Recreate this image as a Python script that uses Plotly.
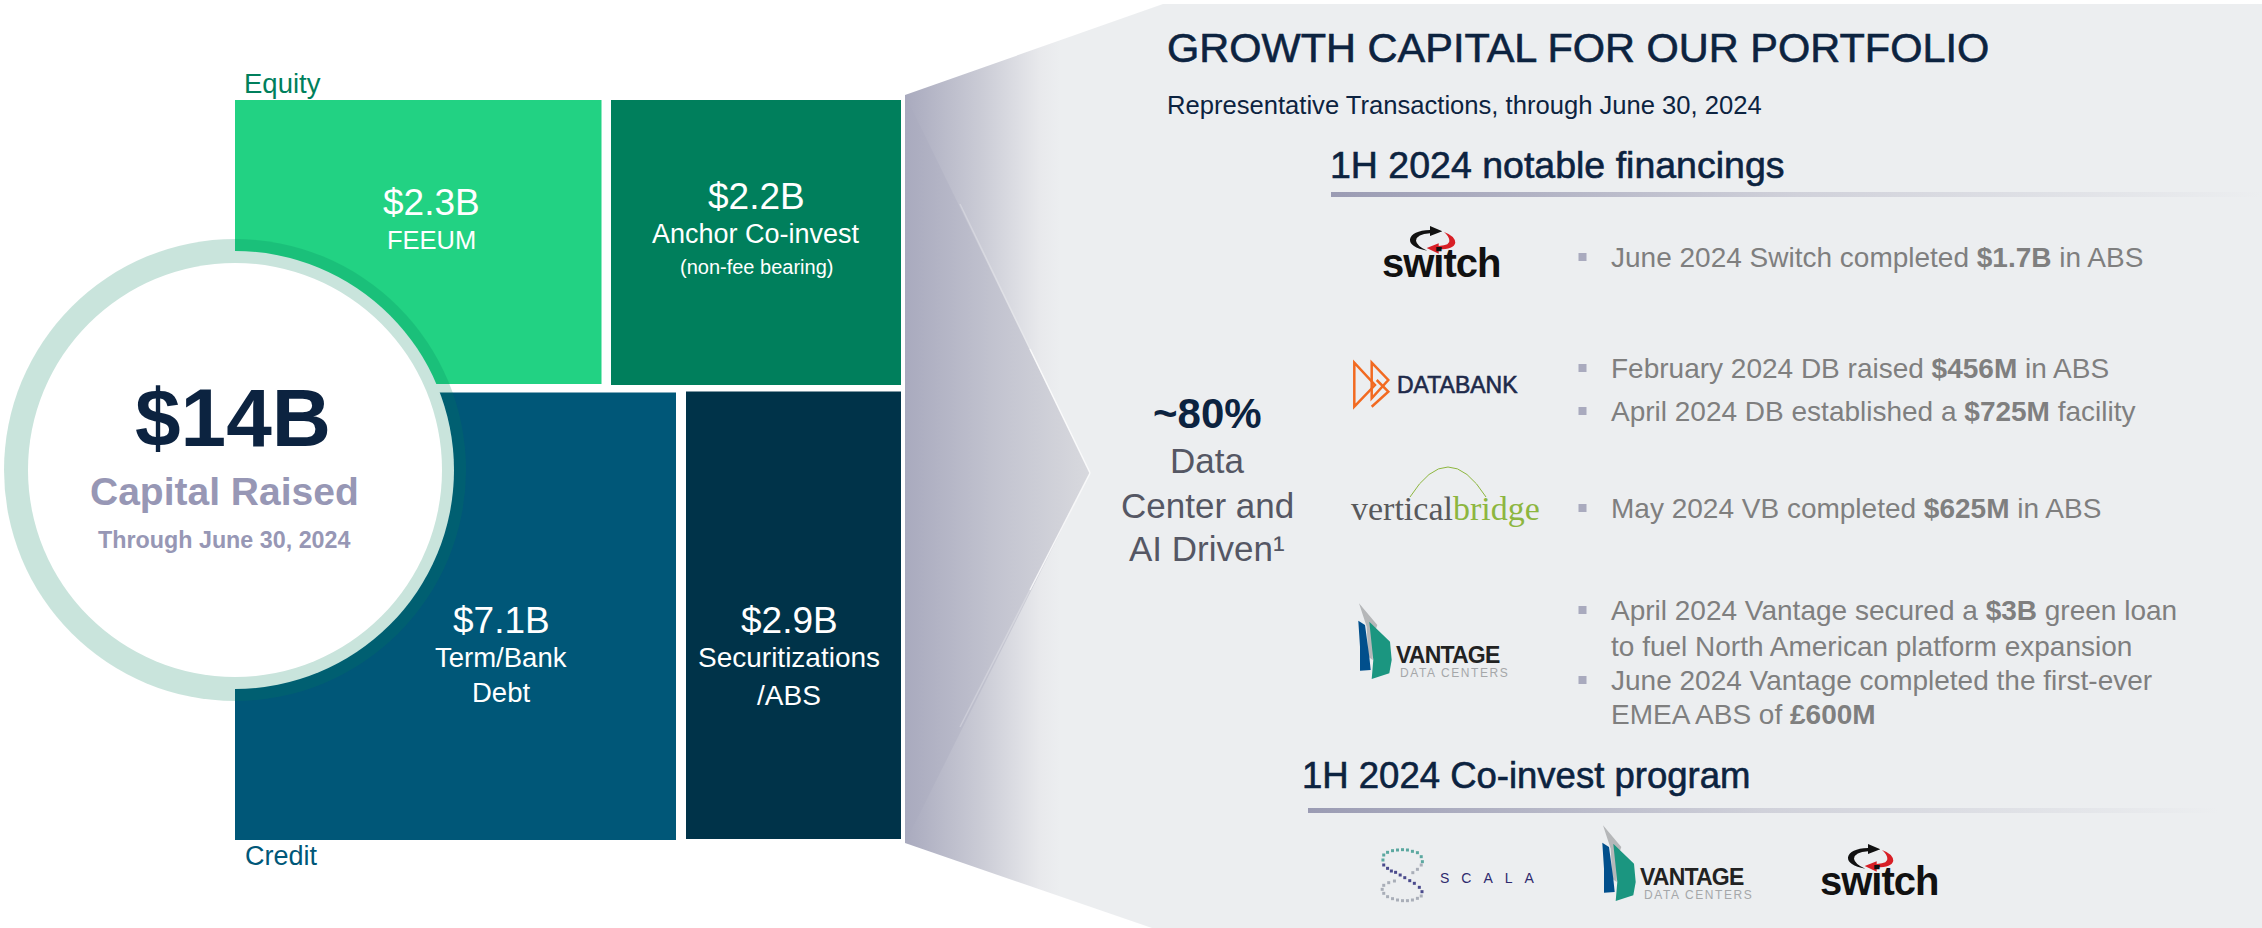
import plotly.graph_objects as go

# ---------- data ----------
tile_values = ["$2.3B", "$2.2B", "$7.1B", "$2.9B"]
tile_names = ["FEEUM", "Anchor Co-invest", "Term/Bank", "Securitizations"]
tile_second = ["", "(non-fee bearing)", "Debt", "/ABS"]
total_value = "$14B"
total_label = "Capital Raised"
total_note = "Through June 30, 2024"
share_value = "~80%"
share_lines = ["Data", "Center and", "AI Driven¹"]
title_text = "GROWTH CAPITAL FOR OUR PORTFOLIO"
subtitle_text = "Representative Transactions, through June 30, 2024"
heading_1 = "1H 2024 notable financings"
heading_2 = "1H 2024 Co-invest program"
bullet_lines = [
    "June 2024 Switch completed <b>$1.7B</b> in ABS",
    "February 2024 DB raised <b>$456M</b> in ABS",
    "April 2024 DB established a <b>$725M</b> facility",
    "May 2024 VB completed <b>$625M</b> in ABS",
    "April 2024 Vantage secured a <b>$3B</b> green loan",
    "June 2024 Vantage completed the first-ever",
]
continuation_lines = ["to fuel North American platform expansion", "EMEA ABS of <b>£600M</b>"]

# ---------- layout geometry (pixel-scaled axes) ----------
W, H = 2262, 928
FONT = "Liberation Sans"
NAVY = "#0C2340"
GREY = "#7F7F7F"
tile_x0 = [235, 611, 235, 686]
tile_x1 = [601.5, 901, 676, 901]
tile_y0 = [100, 100, 392.5, 391.5]
tile_y1 = [384, 385, 840, 839]
tile_colors = ["#22D283", "#007F5C", "#005778", "#003349"]
bullet_y = [257, 368, 411, 508, 610, 680]
continuation_y = [646, 714]

fig = go.Figure()
shapes, notes = [], []


def note(text, x, y, size, color, anchor="center", weight=None, family=FONT):
    if weight == "bold":
        text = f"<b>{text}</b>"
    elif weight == "medium":
        text = f'<span style="stroke:{color};stroke-width:0.6px">{text}</span>'
    notes.append(dict(text=text, x=x, y=y, xref="x", yref="y", showarrow=False,
                      xanchor=anchor, yanchor="middle", align=anchor if anchor != "center" else "center",
                      font=dict(family=family, size=size, color=color), borderpad=0, borderwidth=0))


def poly(points, closed=True):
    return "M" + " L".join(f"{x:.1f},{y:.1f}" for x, y in points) + (" Z" if closed else "")


def add_path(d, fill=None, line=None, width=0):
    shapes.append(dict(type="path", path=d, xref="x", yref="y",
                       fillcolor=fill if fill else "rgba(0,0,0,0)",
                       line=dict(color=line if line else "rgba(0,0,0,0)", width=width)))


# panel with horizontal fade
panel_x = [905, 1163, W, W, 1152, 905, 905]
panel_y = [95, 4, 4, H, H, 843, 95]
fig.add_trace(go.Scatter(
    x=panel_x, y=panel_y, mode="lines", fill="toself", line=dict(width=0), hoverinfo="skip",
    fillgradient=dict(type="horizontal", start=905, stop=1060,
                      colorscale=[[0, "#A9AABE"], [0.5, "#CBCCD6"], [0.87, "#E8E9EC"], [1, "#ECEEF0"]])))
# chevron
fig.add_trace(go.Scatter(
    x=[905, 1090, 905, 905], y=[95, 473, 843, 95], mode="lines", fill="toself", line=dict(width=0),
    hoverinfo="skip",
    fillgradient=dict(type="horizontal", start=905, stop=1090,
                      colorscale=[[0, "#A9AABE"], [0.5, "#C3C4D0"], [1, "#D8D9DE"]])))
for (a, b, alpha) in [((960, 204), (1030, 349), 0.25), ((1030, 349), (1090, 473), 0.8),
                      ((1090, 473), (1030, 590), 0.8), ((1030, 590), (960, 727), 0.25)]:
    fig.add_trace(go.Scatter(x=[a[0], b[0]], y=[a[1], b[1]], mode="lines", hoverinfo="skip",
                             line=dict(color=f"rgba(255,255,255,{alpha})", width=1.5)))

# heading rules
for (x0, x1, y0, y1) in [(1331, W, 192, 197), (1308, 2219, 808, 813)]:
    fig.add_trace(go.Scatter(
        x=[x0, x1, x1, x0, x0], y=[y0, y0, y1, y1, y0], mode="lines", fill="toself", line=dict(width=0),
        hoverinfo="skip",
        fillgradient=dict(type="horizontal", start=x0, stop=x1,
                          colorscale=[[0, "#9A9BB3"], [0.5, "#D0D1DA"], [1, "#ECEEF0"]])))

# tiles
fig.add_trace(go.Bar(
    x=[(a + b) / 2 for a, b in zip(tile_x0, tile_x1)],
    y=[b - a for a, b in zip(tile_y0, tile_y1)],
    base=tile_y0,
    width=[b - a for a, b in zip(tile_x0, tile_x1)],
    marker=dict(color=tile_colors, line=dict(width=0)),
    hoverinfo="skip"))

# ring: tiles are cut back by a white disc, the translucent ring lies over them, the centre is white
CX, CY, R_OUT, R_CUT, R_IN = 235, 470, 231, 219, 207
for r, col in [(R_CUT, "#FFFFFF"), (R_OUT, "rgba(0,127,92,0.21)"), (R_IN, "#FFFFFF")]:
    shapes.append(dict(type="circle", xref="x", yref="y", x0=CX - r, x1=CX + r, y0=CY - r, y1=CY + r,
                       fillcolor=col, line=dict(width=0)))

# left-hand text
note("Equity", 244, 83, 27.5, "#007F5C", "left")
note("Credit", 245, 856, 27, "#005778", "left")
note(tile_values[0], 431, 202, 37, "#FFFFFF")
note(tile_names[0], 431, 240, 25.5, "#FFFFFF")
note(tile_values[1], 756, 196, 37, "#FFFFFF")
note(tile_names[1], 756, 234, 27, "#FFFFFF")
note(tile_second[1], 756, 267, 20, "#FFFFFF")
note(tile_values[2], 501, 620, 37, "#FFFFFF")
note(tile_names[2], 501, 657, 27.5, "#FFFFFF")
note(tile_second[2], 501, 692, 27.5, "#FFFFFF")
note(tile_values[3], 789, 620, 37, "#FFFFFF")
note(tile_names[3], 789, 657, 28, "#FFFFFF")
note(tile_second[3], 789, 695, 28, "#FFFFFF")
note(total_value, 233, 417, 82, NAVY, weight="bold")
note(total_label, 224, 491, 39, "#9797B5", weight="bold")
note(total_note, 224, 540, 23.3, "#9797B5", weight="bold")

# right-hand text
note(title_text, 1167, 47, 41.5, NAVY, "left", weight="medium")
note(subtitle_text, 1167, 105, 25.6, NAVY, "left")
note(heading_1, 1330, 165, 37.5, NAVY, "left", weight="medium")
note(heading_2, 1302, 775, 36.5, NAVY, "left", weight="medium")
note(share_value, 1207, 413, 42, NAVY, weight="bold")
note(share_lines[0], 1207, 460, 35, "#555764")
note(share_lines[1], 1207, 505, 35, "#555764")
note(share_lines[2], 1207, 548, 35, "#555764")
for line, y in zip(bullet_lines, bullet_y):
    note(line, 1611, y, 28, GREY, "left")
for line, y in zip(continuation_lines, continuation_y):
    note(line, 1611, y, 28, GREY, "left")
fig.add_trace(go.Scatter(x=[1582.5] * len(bullet_y), y=bullet_y, mode="markers", hoverinfo="skip",
                         marker=dict(symbol="square", size=8, color="#A9AABE", line=dict(width=0))))


# ---------- logos ----------
def switch_logo(dx, dy):
    def p(X, Y):
        return 1320 + X / 3 + dx, 210 + Y / 3 + dy
    pts = lambda seq: " ".join(f"{c}{p(a, b)[0]:.1f},{p(a, b)[1]:.1f}" for c, a, b in seq)
    black = [("M", 322, 122), ("Q", 268, 112), ("", 270, 88), ("Q", 275, 62), ("", 330, 60), ("L", 330, 48),
             ("L", 367, 64), ("L", 330, 78), ("L", 330, 70), ("Q", 290, 72), ("", 288, 92), ("Q", 290, 108), ("", 322, 122)]
    red = [("M", 372, 66), ("Q", 405, 78), ("", 406, 98), ("Q", 402, 118), ("", 356, 118), ("L", 356, 131),
           ("L", 320, 114), ("L", 356, 100), ("L", 356, 108), ("Q", 392, 106), ("", 388, 90), ("Q", 386, 78), ("", 372, 66)]
    add_path(pts(black) + " Z", fill="#111111")
    add_path(pts(red) + " Z", fill="#D81F26")
    note('<b><span style="letter-spacing:-1px">switch</span></b>', 1441 + dx, 263 + dy, 40, "#111111")


def vantage_logo(dx, dy):
    def p(X, Y):
        return 1340 + X / 3 + dx, 580 + Y / 3 + dy
    add_path(poly([p(*q) for q in [(57, 70), (112, 135), (100, 170), (98, 240), (85, 230), (80, 140)]]), fill="#B5B7B9")
    add_path(poly([p(*q) for q in [(55, 122), (75, 135), (88, 230), (92, 270), (60, 272), (60, 200)]]), fill="#014F8C")
    add_path(poly([p(*q) for q in [(88, 125), (150, 185), (155, 240), (148, 280), (95, 297), (100, 240)]]), fill="#1B9680")
    note('<b><span style="letter-spacing:-0.8px">VANTAGE</span></b>', 1396 + dx, 655 + dy, 23, "#222222", "left")
    note('<span style="letter-spacing:1.6px">DATA CENTERS</span>', 1400 + dx, 673 + dy, 12, "#A5A7A9", "left")


switch_logo(0, 0)
switch_logo(438, 618)
vantage_logo(0, 0)
vantage_logo(244, 222)


def dbk(X, Y):
    return 1320 + X / 3, 210 + Y / 3


add_path(poly([dbk(*q) for q in [(103, 458), (103, 590), (165, 525)]]), line="#F26A21", width=2.5)
add_path(poly([dbk(*q) for q in [(155, 458), (205, 510), (155, 565)]]), line="#F26A21", width=2.5)
add_path(poly([dbk(*q) for q in [(155, 590), (205, 545), (170, 510)]], closed=False), line="#F26A21", width=2.5)
note("DATABANK", 1397, 385, 23, "#1E2A4A", "left", weight="medium")

note('<span style="color:#58595B">vertical</span><span style="color:#8DB63F">bridge</span>',
     1351, 508, 34, "#58595B", "left", family="Liberation Serif")
add_path("M1410,497 Q1448,437 1486,497", line="#8DB63F", width=1)

scala_teal = [(60, 150), (62, 135), (72, 127), (85, 122), (98, 120), (111, 119), (124, 120), (137, 124), (150, 128), (160, 140), (163, 155)]
scala_navy = [(62, 165), (72, 175), (82, 183), (93, 187), (105, 195), (117, 203), (130, 212), (142, 220), (155, 232), (162, 245)]
scala_pale = [(160, 258), (150, 265), (137, 270), (124, 272), (111, 272), (98, 270), (85, 266), (72, 260), (62, 250),
              (58, 238), (62, 226), (75, 218), (90, 213), (160, 165), (150, 178), (138, 188)]
for dots, col in [(scala_teal, "#5BA8A0"), (scala_navy, "#4A4A8C"), (scala_pale, "#A9AEB8")]:
    fig.add_trace(go.Scatter(x=[1360 + a / 2.613 for a, b in dots], y=[810 + b / 3 for a, b in dots],
                             mode="markers", hoverinfo="skip",
                             marker=dict(symbol="square", size=3, color=col, line=dict(width=0))))
note('<span style="letter-spacing:12px">SCALA</span>', 1440, 878, 14, "#2E2A6E", "left")

fig.update_layout(
    width=W, height=H, margin=dict(l=0, r=0, t=0, b=0), paper_bgcolor="#FFFFFF", plot_bgcolor="#FFFFFF",
    showlegend=False, barmode="overlay", shapes=shapes, annotations=notes,
    xaxis=dict(range=[0, W], visible=False, fixedrange=True),
    yaxis=dict(range=[H, 0], visible=False, fixedrange=True),
)
fig.write_html("out.html", post_script="document.body.style.margin='0';",
               config={"displayModeBar": False})
